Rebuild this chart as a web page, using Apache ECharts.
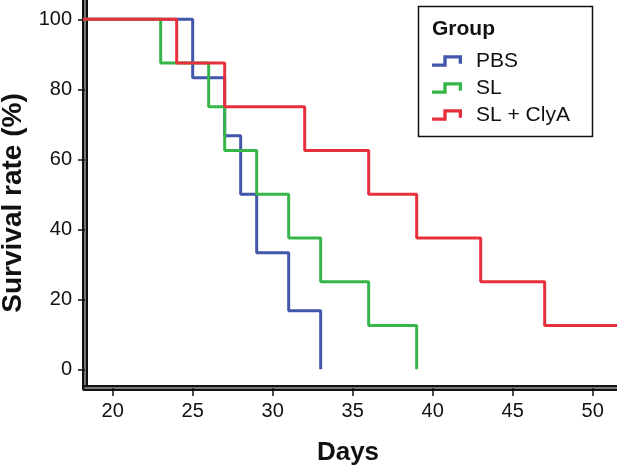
<!DOCTYPE html>
<html>
<head>
<meta charset="utf-8">
<script src="https://cdn.jsdelivr.net/npm/echarts@6/dist/echarts.min.js"></script>
<style>html,body{margin:0;padding:0;background:#fff}#c{width:617px;height:469px}</style>
</head>
<body>
<div id="c"></div>
<script>
// Kaplan-Meier survival data: [day, survival %]
var groups = ['PBS', 'SL', 'SL + ClyA'];
var pbsData = [[0, 100], [25, 83.3], [27, 66.7], [28, 50], [29, 33.3], [31, 16.7], [33, 0]];
var slData = [[0, 100], [23, 87.5], [26, 75], [27, 62.5], [29, 50], [31, 37.5], [33, 25], [36, 12.5], [39, 0]];
var slClyaData = [[0, 100], [24, 87.5], [27, 75], [32, 62.5], [36, 50], [39, 37.5], [43, 25], [47, 12.5], [55, 12.5]];
var xTicks = [20, 25, 30, 35, 40, 45, 50];
var yTicks = [0, 20, 40, 60, 80, 100];
var colors = ['#4256ac', '#36b548', '#e8303d'];

var FONT = 'Liberation Sans';
var stepIcon = 'path://M0 8.3L11.3 8.3L11.3 0L30 0L30 8.5L26.7 8.5L26.7 3.3L14.7 3.3L14.7 11.6L0 11.6Z M39 6L39.01 6L39.01 6.01Z';

var chart = echarts.init(document.getElementById('c'), null, {renderer: 'canvas'});
var seriesData = [pbsData, slData, slClyaData];
var option = {
  animation: false,
  backgroundColor: '#fff',
  color: colors,
  grid: {left: 85, right: 0, top: 0, bottom: 81, containLabel: false, outerBoundsMode: 'none'},
  title: {
    text: 'Group', left: 432, top: 19, padding: 0,
    textStyle: {fontFamily: FONT, fontWeight: 'bold', fontSize: 21, color: '#111'}
  },
  legend: {
    data: groups,
    orient: 'vertical',
    left: 432, top: 47.5, padding: 0,
    itemGap: 0, itemWidth: 39, itemHeight: 12,
    icon: stepIcon,
    selectedMode: false,
    textStyle: {fontFamily: FONT, fontSize: 21, color: '#111', lineHeight: 27}
  },
  xAxis: [{
    type: 'value', min: 18.27, max: 51.52,
    name: 'Days', nameLocation: 'middle', nameGap: 52,
    nameTextStyle: {fontFamily: FONT, fontWeight: 'bold', fontSize: 26, color: '#111', padding: [0, 6, 0, 0]},
    axisLine: {onZero: false, lineStyle: {color: '#111', width: 6}},
    axisTick: {show: true, length: 8, customValues: xTicks, lineStyle: {color: '#111', width: 1.5}},
    axisLabel: {customValues: xTicks, margin: 13, fontFamily: FONT, fontSize: 20, color: '#111'},
    splitLine: {show: false}
  }, {
    type: 'value', min: 18.27, max: 51.52, position: 'bottom',
    axisLine: {onZero: false, lineStyle: {color: '#9a9a9a', width: 1.5}},
    axisTick: {show: false}, axisLabel: {show: false}, splitLine: {show: false}
  }],
  yAxis: [{
    type: 'value', min: -5.34, max: 105.5,
    name: 'Survival rate (%)', nameLocation: 'middle', nameGap: 58,
    nameTextStyle: {fontFamily: FONT, fontWeight: 'bold', fontSize: 28, color: '#111', padding: [0, 18, 0, 0]},
    axisLine: {onZero: false, lineStyle: {color: '#111', width: 6}},
    axisTick: {show: true, length: 7, customValues: yTicks, lineStyle: {color: '#111', width: 1.5}},
    axisLabel: {customValues: yTicks, margin: 13, fontFamily: FONT, fontSize: 20, color: '#111'},
    splitLine: {show: false}
  }, {
    type: 'value', min: -5.34, max: 105.5, position: 'left',
    axisLine: {onZero: false, lineStyle: {color: '#9a9a9a', width: 1.5}},
    axisTick: {show: false}, axisLabel: {show: false}, splitLine: {show: false}
  }],
  graphic: [{
    type: 'rect', z: 0,
    shape: {x: 418.5, y: 6.5, width: 174, height: 130},
    style: {fill: 'transparent', stroke: '#111', lineWidth: 1.5}
  }],
  series: groups.map(function (g, i) {
    return {
      name: g, type: 'line', step: 'end',
      data: seriesData[i],
      showSymbol: false, symbol: 'none',
      clip: true,
      itemStyle: {color: colors[i]},
      lineStyle: {color: colors[i], width: 3}
    };
  })
};
chart.setOption(option);
</script>
</body>
</html>
